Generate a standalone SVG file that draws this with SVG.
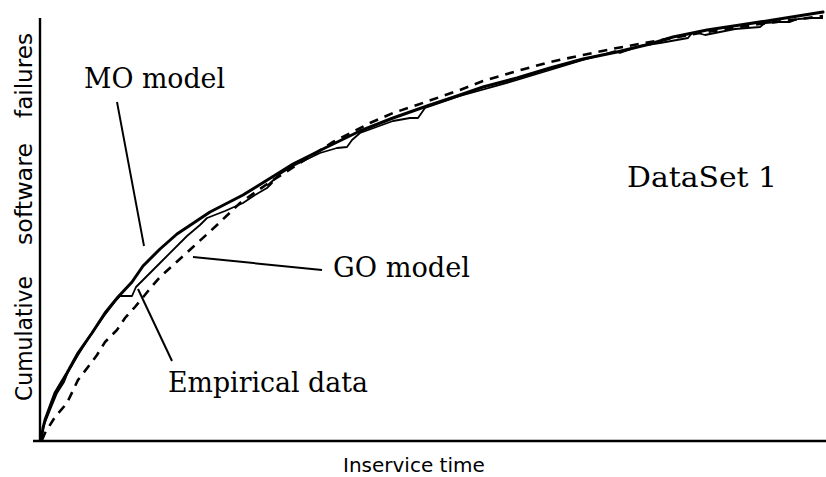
<svg xmlns="http://www.w3.org/2000/svg" width="826" height="477" viewBox="0 0 826 477">
  <style>
    .axis { stroke: #000; stroke-width: 2.4; fill: none; }
    .serif { font-family: "DejaVu Serif", "Liberation Serif", serif; font-size: 28px; fill: #000; }
    .sans { font-family: "DejaVu Sans", "Liberation Sans", sans-serif; fill: #000; }
    .mo { stroke: #000; stroke-width: 3; fill: none; stroke-linejoin: round; stroke-linecap: round; }
    .emp { stroke: #000; stroke-width: 1.8; fill: none; stroke-linejoin: round; }
    .go { stroke: #000; stroke-width: 2.6; fill: none; stroke-dasharray: 9 7; }
    .leader { stroke: #000; stroke-width: 2; fill: none; }
  </style>
  <rect width="826" height="477" fill="#fff"/>

  <!-- axes -->
  <g id="axes">
    <line class="axis" x1="40" y1="18" x2="40" y2="442"/>
    <line class="axis" x1="33" y1="441" x2="826" y2="441"/>
  </g>

  <!-- axis titles -->
  <g id="y-title" class="sans" font-size="23">
    <text transform="translate(32,401) rotate(-90)" textLength="125" lengthAdjust="spacingAndGlyphs">Cumulative</text>
    <text transform="translate(32,245) rotate(-90)" textLength="102" lengthAdjust="spacingAndGlyphs">software</text>
    <text transform="translate(32,118) rotate(-90)" textLength="85" lengthAdjust="spacingAndGlyphs">failures</text>
  </g>
  <g id="x-title">
    <text class="sans" font-size="20" x="343" y="472">Inservice time</text>
  </g>

  <!-- curves -->
  <g id="curves">
    <path id="go-curve" class="go" d="M42,440 L45,433 L55,417 L67,403 L78,380 L88,367 L97,355 L105,342 L117,330 L125,318 L135,307 L153,285 L160,277 L193,247 L217,225 L240,203 L270,182 L300,163 L333,142 L370,123 L393,113 L417,105 L460,90 L483,81 L517,71 L550,62 L583,55 L617,48 L650,42 L700,33 L760,24 L823,16"/>
    <path id="mo-curve" class="mo" d="M41,440 L43,428 L45,420 L55,393 L67,373 L78,353 L92,333 L105,313 L118,297 L132,282 L143,266 L160,249 L177,234 L210,212 L243,195 L277,174 L293,164 L327,147 L360,131 L393,118 L427,106 L460,95 L483,87 L517,78 L550,68 L583,59 L617,52 L650,44 L673,37 L707,30 L740,25 L773,20 L823,12"/>
    <path id="empirical-curve" class="emp" d="M41,440 L44,425 L50,410 L57,393 L64,382 L68,372 L78,355 L90,336 L104,316 L116,300 L120,296 L132,296 L136,287 L143,280 L160,263 L187,236 L200,225 L207,218 L225,211 L243,203 L255,195 L267,188 L272,183 L268,185 L280,174 L293,166 L320,153 L337,148 L347,147 L352,140 L360,133 L393,121 L410,118 L418,118 L425,108 L460,96 L517,80 L560,67 L583,60 L605,54 L615,51 L620,53 L640,46 L660,43 L688,38 L692,33 L698,33 L705,35 L720,32 L735,29 L760,27 L765,23 L778,22 L790,22 L798,19 L812,18 L823,18"/>
  </g>

  <!-- label leaders -->
  <g id="connectors">
    <line class="leader" x1="117" y1="102" x2="144" y2="246"/>
    <line class="leader" x1="193" y1="257" x2="322" y2="270"/>
    <line class="leader" x1="138" y1="289" x2="172" y2="361"/>
  </g>

  <!-- labels -->
  <g id="label-mo"><text class="serif" x="84" y="88" textLength="141" lengthAdjust="spacingAndGlyphs">MO model</text></g>
  <g id="label-go"><text class="serif" x="333" y="277" textLength="137" lengthAdjust="spacingAndGlyphs">GO model</text></g>
  <g id="label-empirical"><text class="serif" x="168" y="392" textLength="200" lengthAdjust="spacingAndGlyphs">Empirical data</text></g>
  <g id="label-dataset"><text class="serif" font-size="31" x="627" y="187" textLength="150" lengthAdjust="spacingAndGlyphs">DataSet 1</text></g>
</svg>
